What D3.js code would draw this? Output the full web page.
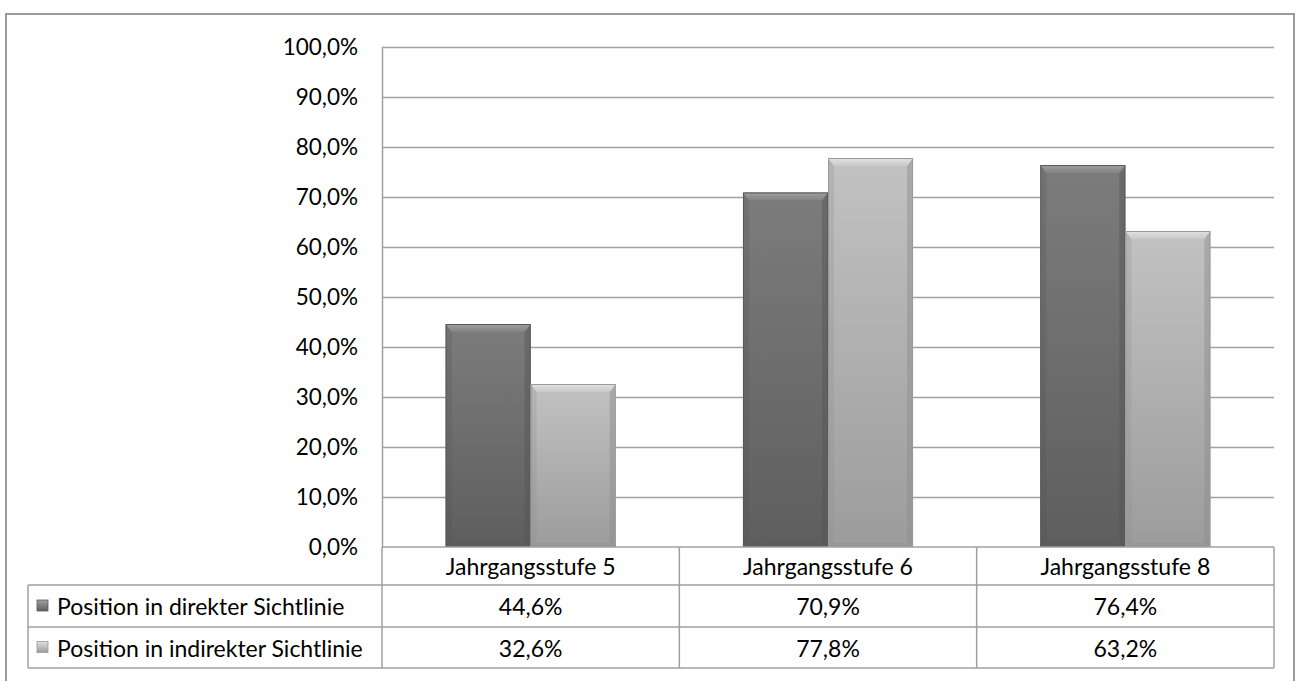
<!DOCTYPE html>
<html><head><meta charset="utf-8">
<script src="https://cdn.jsdelivr.net/npm/d3@7"></script>
<style>html,body{margin:0;padding:0;background:#fff;}svg{display:block;}</style>
</head><body>
<svg id="chart" width="1296" height="681"></svg>
<script>
const categories = ["Jahrgangsstufe 5", "Jahrgangsstufe 6", "Jahrgangsstufe 8"];
const seriesNames = ["Position in direkter Sichtlinie", "Position in indirekter Sichtlinie"];
const direkt = [0.446, 0.709, 0.764];
const indirekt = [0.326, 0.778, 0.632];
const yTicks = [0, 0.1, 0.2, 0.3, 0.4, 0.5, 0.6, 0.7, 0.8, 0.9, 1.0];

const series = [
  {name: seriesNames[0], values: direkt, top1: "#a0a0a0", top2: "#828282", body1: "#7c7c7c", body2: "#5e5e5e", side: "#555", stroke: "#5a5a5a"},
  {name: seriesNames[1], values: indirekt, top1: "#e2e2e2", top2: "#c8c8c8", body1: "#c2c2c2", body2: "#9c9c9c", side: "#8c8c8c", stroke: "#9a9a9a"}
];

const FONT = "Lato, 'Open Sans', sans-serif";
const svg = d3.select("#chart");
const loc = d3.formatLocale({decimal: ",", thousands: ".", grouping: [3], currency: ["", "€"]});
const fmt = loc.format(".1%");

const L = 382, R = 1274, T = 47, B = 547;
const x = d3.scaleBand().domain(categories).range([L, R]).paddingInner(0).paddingOuter(0);
const xi = d3.scaleBand().domain([0, 1]).range([x.bandwidth() * 0.214, x.bandwidth() * 0.786]);
const y = d3.scaleLinear().domain([0, 1]).range([B, T]);

// outer frame
svg.append("path").attr("d", "M6,681 V14 H1294 V681").attr("fill", "none").attr("stroke", "#9a9a9a").attr("stroke-width", 2);

// defs gradients
const defs = svg.append("defs");
series.forEach((s, i) => {
  const g = defs.append("linearGradient").attr("id", "g" + i).attr("x1", 0).attr("y1", 0).attr("x2", 0).attr("y2", 1);
  g.append("stop").attr("offset", "0%").attr("stop-color", s.body1);
  g.append("stop").attr("offset", "100%").attr("stop-color", s.body2);
  const m = defs.append("linearGradient").attr("id", "m" + i).attr("x1", 0).attr("y1", 0).attr("x2", 0).attr("y2", 1);
  m.append("stop").attr("offset", "0%").attr("stop-color", s.top1);
  m.append("stop").attr("offset", "100%").attr("stop-color", s.top2);
  const k = defs.append("linearGradient").attr("id", "k" + i).attr("x1", 0).attr("y1", 0).attr("x2", 0).attr("y2", 1);
  k.append("stop").attr("offset", "0%").attr("stop-color", s.top1);
  k.append("stop").attr("offset", "100%").attr("stop-color", s.body2);
});

// gridlines
svg.append("g").selectAll("line").data(yTicks.slice(1)).join("line")
  .attr("x1", L).attr("x2", R).attr("y1", d => Math.round(y(d)) + 0.5).attr("y2", d => Math.round(y(d)) + 0.5)
  .attr("stroke", "#a0a0a0").attr("stroke-width", 1.5);

// y axis labels
const yAxis = d3.axisLeft(y).tickValues(yTicks).tickFormat(fmt).tickSize(0).tickPadding(24);
const ya = svg.append("g").attr("transform", `translate(${L},0)`).call(yAxis);
ya.select(".domain").remove();
ya.selectAll("text").attr("font-family", FONT).attr("font-size", 22.5).attr("fill", "#000");

// bars
series.forEach((s, i) => {
  const g = svg.append("g");
  s.values.forEach((v, j) => {
    const x0 = x(categories[j]) + xi(i), w = xi.bandwidth();
    const y0 = y(v), y1 = y(0), h = y1 - y0;
    const bt = 8, bs = 6;
    g.append("rect").attr("x", x0).attr("y", y0).attr("width", w).attr("height", h).attr("fill", `url(#g${i})`);
    // left side
    g.append("path").attr("d", `M${x0},${y0} L${x0 + bs},${y0 + bt} L${x0 + bs},${y1 - 4} L${x0},${y1} Z`).attr("fill", s.side).attr("opacity", 0.25);
    // right side
    g.append("path").attr("d", `M${x0 + w},${y0} L${x0 + w - bs},${y0 + bt} L${x0 + w - bs},${y1 - 4} L${x0 + w},${y1} Z`).attr("fill", s.side).attr("opacity", 0.45);
    // bottom
    g.append("path").attr("d", `M${x0},${y1} L${x0 + bs},${y1 - 4} L${x0 + w - bs},${y1 - 4} L${x0 + w},${y1} Z`).attr("fill", s.side).attr("opacity", 0.35);
    // top bevel
    g.append("path").attr("d", `M${x0},${y0} L${x0 + w},${y0} L${x0 + w - bs},${y0 + bt} L${x0 + bs},${y0 + bt} Z`).attr("fill", `url(#m${i})`);
    g.append("rect").attr("x", x0 + 0.5).attr("y", y0 + 0.5).attr("width", w - 1).attr("height", h - 1).attr("fill", "none").attr("stroke", s.stroke).attr("stroke-width", 1);
  });
});

// y axis line
svg.append("line").attr("x1", L + 0.5).attr("x2", L + 0.5).attr("y1", T).attr("y2", B).attr("stroke", "#a0a0a0").attr("stroke-width", 1.5);

// data table
const rowH = [547, 585, 627, 668];
const TL = 28;
const tbl = svg.append("g").attr("stroke", "#a0a0a0").attr("stroke-width", 1.5).attr("fill", "none");
tbl.append("line").attr("x1", L).attr("x2", R).attr("y1", rowH[0]).attr("y2", rowH[0]);
[1, 2, 3].forEach(k => tbl.append("line").attr("x1", TL).attr("x2", R).attr("y1", rowH[k]).attr("y2", rowH[k]));
tbl.append("line").attr("x1", TL).attr("x2", TL).attr("y1", rowH[1]).attr("y2", rowH[3]);
const edges = categories.map(c => x(c)).concat([R]);
edges.forEach(e => tbl.append("line").attr("x1", e).attr("x2", e).attr("y1", rowH[0]).attr("y2", rowH[3]));

// header texts
svg.append("g").selectAll("text").data(categories).join("text")
  .attr("x", d => x(d) + x.bandwidth() / 2).attr("y", (rowH[0] + rowH[1]) / 2)
  .attr("text-anchor", "middle").attr("dominant-baseline", "central")
  .attr("font-family", FONT).attr("font-size", 23).attr("fill", "#000").text(d => d);

series.forEach((s, i) => {
  const cy = (rowH[i + 1] + rowH[i + 2]) / 2;
  svg.append("rect").attr("x", 37).attr("y", cy - 6).attr("width", 11).attr("height", 11)
    .attr("fill", `url(#k${i})`).attr("stroke", s.stroke).attr("stroke-width", 0.8);
  svg.append("text").attr("x", 57).attr("y", cy).attr("dominant-baseline", "central")
    .attr("font-family", FONT).attr("font-size", 23).attr("fill", "#000").text(s.name);
  svg.append("g").selectAll("text").data(s.values).join("text")
    .attr("x", (d, j) => x(categories[j]) + x.bandwidth() / 2).attr("y", cy)
    .attr("text-anchor", "middle").attr("dominant-baseline", "central")
    .attr("font-family", FONT).attr("font-size", 23).attr("fill", "#000").text(d => fmt(d));
});
</script>
</body></html>
